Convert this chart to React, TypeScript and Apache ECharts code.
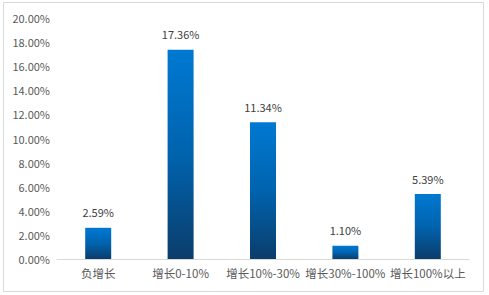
import React, { useEffect, useRef } from "react";
import * as echarts from "echarts";

const categories = ["负增长", "增长0-10%", "增长10%-30%", "增长30%-100%", "增长100%以上"];
const values = [2.59, 17.36, 11.34, 1.1, 5.39];

export default function App() {
  const ref = useRef<HTMLDivElement>(null);
  useEffect(() => {
    const chart = echarts.init(ref.current!, null, { renderer: "svg" });
    const font = "'Microsoft YaHei', 'Noto Sans CJK SC', sans-serif";
    chart.setOption({
      animation: false,
      graphic: [
        {
          type: "rect",
          shape: { x: 3.5, y: 2.5, width: 480, height: 289 },
          style: { fill: "none", stroke: "#d9d9d9", lineWidth: 1 },
          silent: true,
        },
      ],
      grid: { left: 57, right: 20, top: 18, bottom: 36 },
      xAxis: {
        type: "category",
        data: categories,
        axisLine: { lineStyle: { color: "#d9d9d9" } },
        axisTick: { show: false },
        axisLabel: { color: "#595959", fontSize: 11.5, fontFamily: font, margin: 8, interval: 0 },
      },
      yAxis: {
        type: "value",
        min: 0,
        max: 20,
        interval: 2,
        axisLine: { show: false },
        axisTick: { show: false },
        splitLine: { show: false },
        axisLabel: {
          color: "#595959",
          fontSize: 11,
          fontFamily: font,
          margin: 7,
          formatter: (v: number) => v.toFixed(2) + "%",
        },
      },
      series: [
        {
          type: "bar",
          data: values,
          barWidth: 26,
          itemStyle: {
            color: new echarts.graphic.LinearGradient(0, 0, 0, 1, [
              { offset: 0, color: "#0079d2" },
              { offset: 0.5, color: "#0063ae" },
              { offset: 1, color: "#0b3d6b" },
            ]),
          },
          label: {
            show: true,
            position: "top",
            distance: 10,
            color: "#404040",
            fontSize: 11,
            fontFamily: font,
            formatter: (p: any) => p.value.toFixed(2) + "%",
          },
        },
      ],
    });
    return () => chart.dispose();
  }, []);
  return <div ref={ref} style={{ width: 489, height: 295, position: "absolute", left: 0, top: 0 }} />;
}
